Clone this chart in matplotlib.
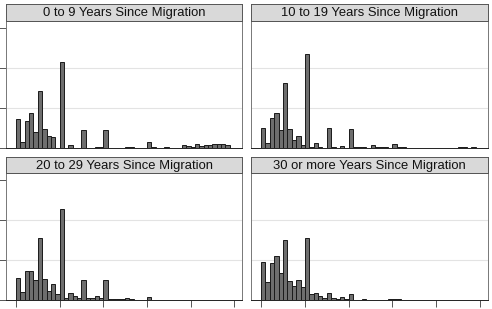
import matplotlib.pyplot as plt
import numpy as np

plt.rcParams['font.family'] = ['Liberation Sans', 'DejaVu Sans']

titles = ["0 to 9 Years Since Migration", "10 to 19 Years Since Migration",
          "20 to 29 Years Since Migration", "30 or more Years Since Migration"]

# bar heights, one bin per unit (bins 0..49)
y_0_9 = [0.72, 0.14, 0.68, 0.88, 0.39, 1.43, 0.48, 0.29, 0.27, 0.00,
         2.16, 0.00, 0.08, 0.01, 0.00, 0.45, 0.01, 0.00, 0.03, 0.03,
         0.45, 0.00, 0.00, 0.00, 0.01, 0.03, 0.02, 0.00, 0.01, 0.01,
         0.16, 0.03, 0.01, 0.01, 0.03, 0.01, 0.00, 0.01, 0.07, 0.05,
         0.03, 0.09, 0.05, 0.07, 0.07, 0.09, 0.09, 0.10, 0.07, 0.00]
y_10_19 = [0.49, 0.13, 0.76, 0.87, 0.45, 1.62, 0.48, 0.20, 0.29, 0.07,
           2.34, 0.02, 0.12, 0.03, 0.01, 0.49, 0.02, 0.01, 0.06, 0.01,
           0.47, 0.02, 0.02, 0.02, 0.01, 0.08, 0.02, 0.02, 0.02, 0.01,
           0.10, 0.03, 0.03, 0.01, 0.01, 0.01, 0.01, 0.01, 0.01, 0.01,
           0.01, 0.01, 0.01, 0.01, 0.01, 0.02, 0.02, 0.01, 0.02, 0.01]
y_20_29 = [0.56, 0.21, 0.73, 0.73, 0.50, 1.56, 0.53, 0.23, 0.39, 0.15,
           2.28, 0.06, 0.18, 0.09, 0.05, 0.50, 0.06, 0.04, 0.09, 0.06,
           0.50, 0.02, 0.02, 0.02, 0.02, 0.06, 0.02, 0.01, 0.01, 0.01,
           0.07, 0.01, 0.01, 0.01, 0.01, 0.01, 0.01, 0.01, 0.01, 0.01,
           0.01, 0.01, 0.01, 0.01, 0.01, 0.0, 0.0, 0.0, 0.0, 0.0]
y_30 = [0.96, 0.46, 0.93, 1.10, 0.68, 1.49, 0.48, 0.36, 0.50, 0.33,
        1.54, 0.14, 0.18, 0.11, 0.06, 0.18, 0.04, 0.02, 0.07, 0.02,
        0.16, 0.01, 0.01, 0.02, 0.01, 0.01, 0.01, 0.01, 0.01, 0.03,
        0.03, 0.03, 0.01, 0.01, 0.01, 0.0, 0.0, 0.0, 0.0, 0.0,
        0.0, 0.0, 0.0, 0.0, 0.0, 0.0, 0.0, 0.0, 0.0, 0.0]
series = [y_0_9, y_10_19, y_20_29, y_30]
bins = np.arange(50)

W, H = 492, 309
fig = plt.figure(figsize=(W / 100, H / 100), dpi=100)

# panel boxes in pixels: left, right, strip top, plot top, plot bottom
boxes = [(6, 242, 4, 21, 148), (251, 488, 4, 21, 148),
         (6, 242, 157, 173, 300), (251, 488, 157, 173, 300)]

edge = '#555555'
for i, (l, r, st, pt, pb) in enumerate(boxes):
    ax = fig.add_axes([l / W, 1 - pb / H, (r - l) / W, (pb - pt) / H])
    ax.bar(bins, series[i], width=1, align='edge', color='#6e6e6e',
           edgecolor='#1a1a1a', linewidth=0.7, zorder=3)
    ax.set_xlim(-2.3, 51.8)
    ax.set_ylim(0, 3.175)
    for g in [1, 2]:
        ax.axhline(g, color='#e3e3e3', lw=0.8, zorder=1)
    ax.set_xticks([0, 10, 20, 30, 40, 50])
    ax.set_yticks([0, 1, 2, 3])
    ax.set_xticklabels([])
    ax.set_yticklabels([])
    ax.tick_params(direction='out', length=5, width=0.7, color=edge)
    if i < 2:
        ax.tick_params(axis='x', length=0)
    if i % 2 == 1:
        ax.tick_params(axis='y', length=0)
    for s in ax.spines.values():
        s.set_color('#777777')
        s.set_linewidth(0.7)
    ax.spines['bottom'].set_color('#222222')

    sx = fig.add_axes([l / W, 1 - pt / H, (r - l) / W, (pt - st) / H])
    sx.set_facecolor('#d9d9d9')
    sx.set_xticks([])
    sx.set_yticks([])
    for s in sx.spines.values():
        s.set_color('#555555')
        s.set_linewidth(0.7)
    sx.text(0.5, 0.45, titles[i], ha='center', va='center', fontsize=9.4,
            color='#111111', transform=sx.transAxes)

fig.savefig('out.png', dpi=100)
